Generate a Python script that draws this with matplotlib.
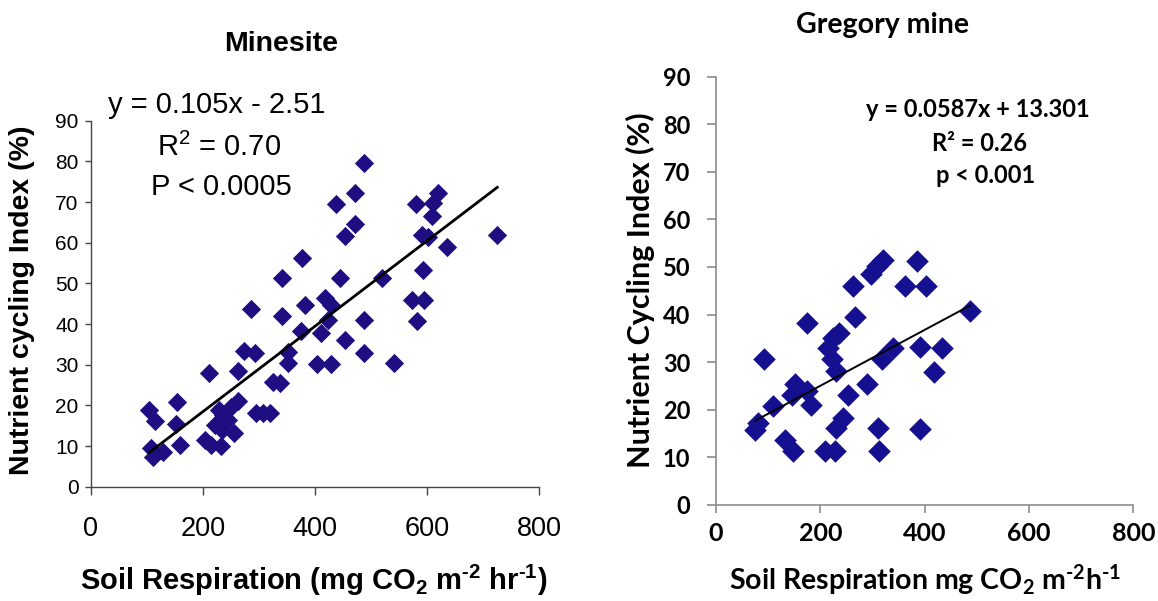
import matplotlib
matplotlib.use('Agg')
import matplotlib.pyplot as plt
import numpy as np

plt.rcParams['mathtext.default'] = 'regular'

W, H = 1158, 601

# Minesite data (soil respiration, nutrient cycling index)
mine_x = [488, 472, 437, 472, 453, 620, 611, 608, 580, 590, 602, 724, 636, 593,
          520, 445, 341, 377, 572, 595, 581, 488, 417, 429, 381, 286, 341, 423,
          411, 375, 453, 488, 541, 404, 429, 351, 351, 273, 292, 210, 262, 325,
          337, 154, 262, 250, 295, 307, 319, 104, 115, 151, 228, 235, 222, 234,
          256, 203, 214, 232, 158, 107, 128, 110, 244]
mine_y = [79.7, 72.1, 69.4, 64.6, 61.6, 72.3, 69.7, 66.6, 69.4, 61.9, 61.5, 61.9,
          59.0, 53.4, 51.2, 51.4, 51.4, 56.3, 45.9, 45.9, 40.7, 41.0, 46.3, 44.7,
          44.8, 43.7, 42.0, 41.0, 37.9, 38.3, 36.1, 32.8, 30.5, 30.1, 30.1, 33.2,
          30.5, 33.4, 32.8, 27.9, 28.5, 25.8, 25.6, 20.9, 21.1, 19.7, 18.2, 18.2,
          18.2, 18.9, 16.1, 15.4, 18.9, 17.6, 15.2, 13.9, 13.1, 11.5, 10.2, 10.0,
          10.2, 9.4, 8.6, 7.4, 16.4]
mine_slope, mine_icpt = 0.105, -2.51
mine_xrange = [104, 725]

# Gregory mine data
greg_x = [319.5, 308, 298, 385, 263, 362, 403, 266, 487, 175, 236, 225, 215, 339,
          391, 433, 318, 222, 92, 231, 417, 289, 151, 145, 183, 254, 110, 81, 75,
          244, 231, 311, 391, 132, 148, 209, 228, 313, 174]
greg_y = [51.4, 50.2, 48.5, 51.3, 46.0, 46.0, 46.0, 39.5, 40.7, 38.3, 36.2, 35.0,
          33.0, 33.0, 33.2, 33.0, 30.6, 30.6, 30.6, 28.1, 28.0, 25.4, 25.4, 23.0,
          21.1, 23.0, 20.7, 17.2, 15.8, 18.3, 16.2, 16.2, 16.0, 13.7, 11.3, 11.3,
          11.3, 11.3, 23.9]
greg_slope, greg_icpt = 0.0587, 13.301
greg_xrange = [75, 487]

xticks = [0, 200, 400, 600, 800]
yticks = list(range(0, 100, 10))


def fx(px):
    return px / W


def fy(py):
    return 1 - py / H


fig = plt.figure(figsize=(W / 100, H / 100), dpi=100)

########################################
#### Minesite (left)
########################################
arial = 'Liberation Sans'
ax1 = fig.add_axes([fx(91), fy(486.7), fx(539.3) - fx(91), (486.7 - 120.7) / H])
ax1.scatter(mine_x, mine_y, marker='D', s=9.8**2, color='#1f0d82', linewidths=0, zorder=2)
lx = np.array(mine_xrange)
ax1.plot(lx, mine_slope * lx + mine_icpt, color='black', lw=2.0, zorder=3)
ax1.set_xlim(0, 800)
ax1.set_ylim(0, 90)
ax1.set_xticks(xticks)
ax1.set_yticks(yticks)
for s in ['top', 'right']:
    ax1.spines[s].set_visible(False)
for s in ['left', 'bottom']:
    ax1.spines[s].set_color('#444444')
    ax1.spines[s].set_linewidth(1.0)
ax1.tick_params(axis='y', direction='out', length=4, width=1, color='#444444', pad=5)
ax1.tick_params(axis='x', direction='out', length=6, width=1, color='#444444', pad=15)
for lab in ax1.get_yticklabels():
    lab.set_fontfamily(arial)
    lab.set_fontsize(15)
for lab in ax1.get_xticklabels():
    lab.set_fontfamily(arial)
    lab.set_fontsize(19.5)

hy = '\u2010'
fig.text(fx(281), fy(50.7), 'Minesite', family=arial, weight='bold', fontsize=20.5,
         ha='center', va='baseline')
fig.text(fx(314), fy(590),
         'Soil Respiration (mg CO$_2$ m$^{' + hy + '2}$ hr$^{' + hy + '1}$)',
         family=arial, weight='bold', fontsize=21, ha='center', va='baseline')
fig.text(fx(22), fy(300), 'Nutrient cycling Index (%)', family=arial, weight='bold',
         fontsize=20.5, rotation=90, ha='center', va='center')
fig.text(fx(217), fy(113), 'y = 0.105x - 2.51', family=arial, fontsize=21,
         ha='center', va='baseline')
fig.text(fx(219), fy(156), r'R$^2$ = 0.70', family=arial, fontsize=21,
         ha='center', va='baseline')
fig.text(fx(221), fy(195), 'P < 0.0005', family=arial, fontsize=21,
         ha='center', va='baseline')

########################################
#### Gregory mine (right)
########################################
cal = 'Lato'
ax2 = fig.add_axes([fx(716), fy(505), fx(1133.3) - fx(716), (505 - 76.5) / H])
ax2.scatter(greg_x, greg_y, marker='D', s=11.5**2, color='#15108f', linewidths=0, zorder=2)
gx = np.array(greg_xrange)
ax2.plot(gx, greg_slope * gx + greg_icpt, color='black', lw=1.4, zorder=3)
ax2.set_xlim(0, 800)
ax2.set_ylim(0, 90)
ax2.set_xticks(xticks)
ax2.set_yticks(yticks)
for s in ['top', 'right']:
    ax2.spines[s].set_visible(False)
for s in ['left', 'bottom']:
    ax2.spines[s].set_color('#8c8c8c')
    ax2.spines[s].set_linewidth(1.2)
ax2.tick_params(axis='y', direction='out', length=6.5, width=1.2, color='#8c8c8c', pad=12)
ax2.tick_params(axis='x', direction='out', length=6, width=1.2, color='#8c8c8c', pad=6)
for lab in ax2.get_yticklabels():
    lab.set_fontfamily(cal)
    lab.set_fontweight('bold')
    lab.set_fontsize(17)
for lab in ax2.get_xticklabels():
    lab.set_fontfamily(cal)
    lab.set_fontweight('bold')
    lab.set_fontsize(18)

fig.text(fx(882), fy(33), 'Gregory mine', family=cal, weight='bold', fontsize=20.5,
         ha='center', va='baseline')
fig.text(fx(925), fy(590),
         'Soil Respiration mg CO$_2$ m$^{' + hy + '2}$h$^{' + hy + '1}$',
         family=cal, weight='bold', fontsize=20.5, ha='center', va='baseline')
fig.text(fx(640), fy(290), 'Nutrient Cycling Index (%)', family=cal, weight='bold',
         fontsize=22, rotation=90, ha='center', va='center')
fig.text(fx(978), fy(117), 'y = 0.0587x + 13.301', family=cal, weight='bold',
         fontsize=17, ha='center', va='baseline')
fig.text(fx(979), fy(151), 'R² = 0.26', family=cal, weight='bold', fontsize=17,
         ha='center', va='baseline')
fig.text(fx(986), fy(183), 'p < 0.001', family=cal, weight='bold', fontsize=17,
         ha='center', va='baseline')

fig.savefig('out.png', dpi=100)
